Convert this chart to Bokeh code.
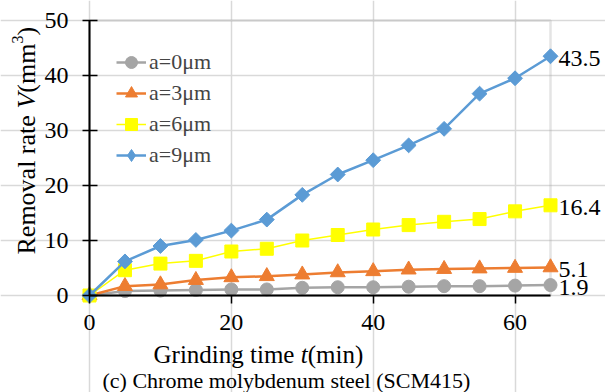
import math
from bokeh.plotting import figure
from bokeh.models import Label, Legend, LegendItem, FixedTicker, Range1d, BoxAnnotation
from bokeh.embed import file_html
from bokeh.resources import INLINE

# ---- data ----
time_min = [0, 5, 10, 15, 20, 25, 30, 35, 40, 45, 50, 55, 60, 65]
v_a0 = [0, 0.8, 0.9, 1.0, 1.1, 1.1, 1.4, 1.5, 1.5, 1.6, 1.7, 1.7, 1.8, 1.9]
v_a3 = [0, 1.7, 2.0, 2.8, 3.3, 3.5, 3.8, 4.2, 4.4, 4.7, 4.8, 4.9, 5.0, 5.1]
v_a6 = [0, 4.6, 5.8, 6.3, 8.0, 8.5, 10.0, 11.0, 12.0, 12.8, 13.4, 13.9, 15.3, 16.4]
v_a9 = [0, 6.2, 9.0, 10.1, 11.8, 13.8, 18.3, 22.0, 24.6, 27.3, 30.3, 36.7, 39.5, 43.5]
series_names = ["a=0\u03bcm", "a=3\u03bcm", "a=6\u03bcm", "a=9\u03bcm"]
x_ticks = [0, 20, 40, 60]
y_ticks = [0, 10, 20, 30, 40, 50]

F = "'Liberation Serif'"
W, H = 605, 392
# pixel box of the data area inside the page
PL, PR, PT, PB = 89, 550, 20, 295
X0, X1, Y0, Y1 = 0, 65, 0, 50
sx = (X1 - X0) / (PR - PL)
sy = (Y1 - Y0) / (PB - PT)

def dx(px):
    return X0 + (px - PL) * sx

def dy(py):
    return Y0 + (PB - py) * sy

p = figure(width=W, height=H, output_backend="svg", toolbar_location=None,
           x_range=Range1d(dx(0), dx(W)), y_range=Range1d(dy(H), dy(0)),
           min_border=0, frame_width=W, frame_height=H)
p.background_fill_color = "white"
p.border_fill_color = "white"
p.outline_line_color = None

p.add_layout(BoxAnnotation(left=X0, right=X1, bottom=Y0, top=Y1, fill_alpha=0,
                           line_color="#a6a6a6", line_width=2.5, level="underlay"))

p.xgrid.ticker = FixedTicker(ticks=x_ticks)
p.ygrid.ticker = FixedTicker(ticks=y_ticks)
for g in (p.xgrid, p.ygrid):
    g.grid_line_color = "#d9d9d9"
    g.grid_line_width = 1.5
p.xgrid.bounds = (Y0, Y1)
p.ygrid.bounds = (X0, X1)

for ax, ticks in ((p.xaxis, x_ticks), (p.yaxis, y_ticks)):
    ax.ticker = FixedTicker(ticks=ticks)
    ax.axis_line_color = "black"
    ax.axis_line_width = 2
    ax.major_tick_line_color = "black"
    ax.major_tick_line_width = 1.5
    ax.minor_tick_line_color = None
    ax.major_label_text_font = F
    ax.major_label_text_font_size = "24px"
    ax.major_label_text_color = "black"
p.xaxis.fixed_location = Y0
p.yaxis.fixed_location = X0
p.xaxis.bounds = (X0, X1)
p.yaxis.bounds = (Y0, Y1)
p.xaxis.major_tick_in = 0
p.xaxis.major_tick_out = 8
p.xaxis.major_label_standoff = 11
p.yaxis.major_tick_in = 8
p.yaxis.major_tick_out = 7
p.yaxis.major_label_standoff = 14

styles = [
    dict(color="#a5a5a5", marker="circle", size=13, angle=0, lw=2.5),
    dict(color="#ed7d31", marker="triangle", size=15, angle=0, lw=2.5),
    dict(color="#ffff00", marker="square", size=13, angle=0, lw=1.5),
    dict(color="#5b9bd5", marker="square", size=10.5, angle=math.pi / 4, lw=2.5),
]
legend_markers = ["circle", "triangle", "square", "diamond"]
series = [v_a0, v_a3, v_a6, v_a9]
items = []
for name, vals, st, lm in zip(series_names, series, styles, legend_markers):
    r1 = p.line(time_min, vals, line_color=st["color"], line_width=st["lw"])
    r2 = p.scatter(time_min, vals, marker=st["marker"], size=st["size"], angle=st["angle"],
                   fill_color=st["color"], line_color=st["color"])
    if st["angle"]:
        # legend-only swatch (off-chart NaN point) for the rotated-square markers
        r2 = p.scatter([float("nan")], [float("nan")], marker=lm, size=st["size"],
                       fill_color=st["color"], line_color=st["color"])
    items.append(LegendItem(label=name, renderers=[r1, r2]))

legend = Legend(items=items, location=(116, 222))
legend.background_fill_alpha = 0
legend.border_line_alpha = 0
legend.label_text_font = F
legend.label_text_font_size = "22px"
legend.glyph_width = 30
legend.glyph_height = 30
legend.label_height = 30
legend.spacing = 1
legend.label_standoff = 3
legend.padding = 0
legend.margin = 0
p.add_layout(legend)

# end-of-series value labels
for vals in series:
    p.add_layout(Label(x=time_min[-1], y=vals[-1], text=f"{vals[-1]:.1f}",
                       x_offset=8, y_offset=-2, text_baseline="middle",
                       text_font=F, text_font_size="24px", text_color="black"))

# x axis title: "Grinding time t(min)"
xl_font = 25
xparts = [("Grinding time ", "normal", 5.889), ("t", "italic", 0.278), ("(min)", "normal", 2.222)]
xpos = 153
for txt, sty, w in xparts:
    p.add_layout(Label(x=dx(xpos), y=dy(354), text=txt, text_font=F,
                       text_font_style=sty, text_font_size=f"{xl_font}px",
                       text_baseline="alphabetic", text_align="left", text_color="black"))
    xpos += w * xl_font

# y axis title: "Removal rate V(mm3)" (rotated, reading upwards)
yl_font = 26
sup_font = round(yl_font * 0.62)
yparts = [("Removal rate ", "normal", 5.611 * yl_font, yl_font, 0),
          ("V", "italic", 0.611 * yl_font, yl_font, 0),
          ("(mm", "normal", 1.889 * yl_font, yl_font, 0),
          ("3", "normal", 0.5 * sup_font, sup_font, 9),
          (")", "normal", 0.333 * yl_font, yl_font, 0)]
ypos = 254
for txt, sty, w, fs, raise_px in yparts:
    p.add_layout(Label(x=dx(26 - raise_px), y=dy(ypos), text=txt, angle=math.pi / 2,
                       text_font=F, text_font_style=sty, text_font_size=f"{fs}px",
                       text_baseline="alphabetic", text_align="left", text_color="black"))
    ypos -= w

# caption
p.add_layout(Label(x=dx(102), y=dy(380), text="(c) Chrome molybdenum steel (SCM415)",
                   text_font=F, text_font_size="22px", text_align="left",
                   text_baseline="alphabetic", text_color="black"))

open("out.html", "w").write(file_html(p, INLINE))
